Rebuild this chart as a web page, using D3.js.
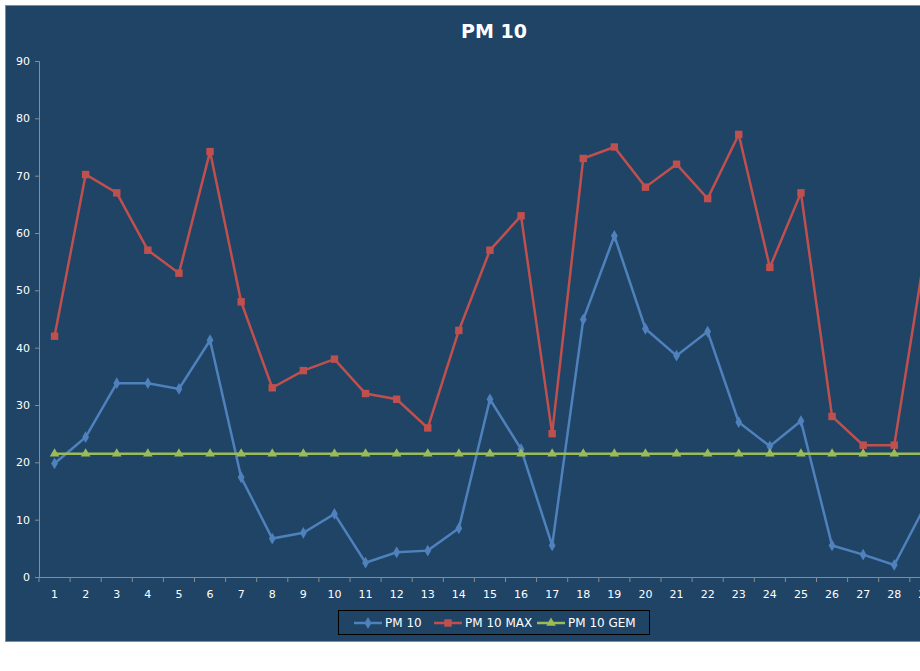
<!DOCTYPE html>
<html><head><meta charset="utf-8">
<script src="https://cdn.jsdelivr.net/npm/d3@7"></script>
<style>body{margin:0;background:#fff;}svg{display:block;font-family:Tahoma,"DejaVu Sans",sans-serif;}</style>
</head><body><svg id="c" width="920" height="671"></svg>
<script>
const days = d3.range(1, 30).map(String);
const pm10 = [19.8,24.4,33.8,33.8,32.8,41.3,17.4,6.7,7.7,11,2.5,4.3,4.6,8.5,31,22.3,5.5,44.9,59.5,43.3,38.6,42.8,27,22.8,27.2,5.5,3.9,2.1,12.5];
const pm10max = [42,70.2,67,57,53,74.2,48,33,36,38,32,31,26,43,57,63,25,73,75,68,72,66,77.2,54,67,28,23,23,57];
const pm10gem = days.map(() => 21.5);
const yTicks = [0,10,20,30,40,50,60,70,80,90];

const svg = d3.select("#c");
svg.append("rect").attr("x",5.5).attr("y",5.5).attr("width",930).attr("height",636).attr("fill","#1F4466").attr("stroke","#8a8a8a");
svg.append("text").attr("x",494).attr("y",38).attr("text-anchor","middle").attr("fill","#fff").attr("font-weight","bold").attr("font-size",19).text("PM 10");

const pLeft=39, pTop=61, pBottom=577, bw=31.1;
const x = d3.scaleBand().domain(days).range([pLeft, pLeft+bw*days.length]);
const y = d3.scaleLinear().domain([0,90]).range([pBottom, pTop]);

const ya = svg.append("g").attr("transform",`translate(${pLeft},0)`).call(d3.axisLeft(y).tickValues(yTicks).tickSize(4).tickPadding(5));
const xa = svg.append("g").attr("transform",`translate(0,${pBottom})`).call(d3.axisBottom(x).tickSize(0).tickPadding(13));
[ya,xa].forEach(a=>{a.selectAll("path,line").attr("stroke","#8c8c8c");a.selectAll("text").attr("fill","#fff").attr("font-size",11).attr("font-family","Tahoma,'DejaVu Sans',sans-serif");});
xa.select(".domain").attr("d",`M${pLeft},0.5H${pLeft+bw*days.length}`);
xa.selectAll(".b").data(d3.range(days.length+1)).enter().append("line").attr("x1",i=>pLeft+i*bw).attr("x2",i=>pLeft+i*bw).attr("y1",0).attr("y2",5).attr("stroke","#8c8c8c");

const cx = d => x(d)+x.bandwidth()/2;
const series = [
 {name:"PM 10", vals:pm10, color:"#4F81BD", shape:d3.symbolDiamond, size:40},
 {name:"PM 10 MAX", vals:pm10max, color:"#C0504D", shape:d3.symbolSquare, size:55},
 {name:"PM 10 GEM", vals:pm10gem, color:"#9BBB59", shape:d3.symbolTriangle, size:40}
];
series.forEach(s=>{
  const line = d3.line().x((v,i)=>cx(days[i])).y(v=>y(v));
  svg.append("path").attr("d",line(s.vals)).attr("fill","none").attr("stroke",s.color).attr("stroke-width",2.5);
  svg.append("g").selectAll("path").data(s.vals).enter().append("path")
    .attr("transform",(v,i)=>`translate(${cx(days[i])},${y(v)})`)
    .attr("d",d3.symbol().type(s.shape).size(s.size)).attr("fill",s.color);
});

const lg = svg.append("g");
lg.append("rect").attr("x",338.5).attr("y",610.5).attr("width",311).attr("height",24).attr("fill","none").attr("stroke","#000");
const lx=[354,434,537];
series.forEach((s,i)=>{
  const g=lg.append("g").attr("transform",`translate(${lx[i]},623)`);
  g.append("line").attr("x1",0).attr("x2",28).attr("stroke",s.color).attr("stroke-width",2.5);
  g.append("path").attr("transform","translate(14,0)").attr("d",d3.symbol().type(s.shape).size(s.size)).attr("fill",s.color);
  g.append("text").attr("x",31).attr("y",4).attr("fill","#fff").attr("font-size",12).text(s.name);
});
</script></body></html>
